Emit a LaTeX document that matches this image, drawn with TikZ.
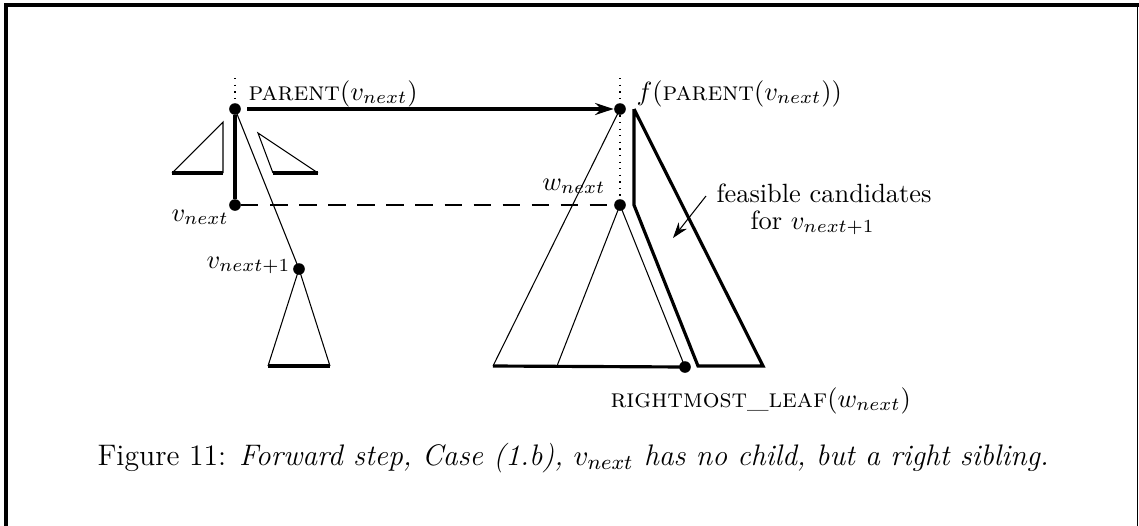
\documentclass[tikz,border=0pt]{standalone}
\usetikzlibrary{arrows.meta}
\begin{document}
\begin{tikzpicture}[x=0.379pt,y=-0.379pt,
  thin line/.style={line width=0.4pt},
  thick line/.style={line width=1.2pt},
  dotline/.style={line width=0.5pt,dotted},
  dashline/.style={line width=1.1pt,dash pattern=on 6.5pt off 4.5pt},
  dot/.style={circle,fill=black,inner sep=0pt,minimum size=4.4pt},
  lbl/.style={inner sep=0pt}]
\useasboundingbox (0,0) rectangle (1139,526);
% frame
\draw[line width=1.2pt] (6,526) -- (6,5) -- (1139,5);
\draw[line width=0.6pt] (1137.5,5) -- (1137.5,526);

% left part
\node[dot] (p) at (235,109) {};
\node[dot] (vn) at (235,205) {};
\node[dot] (vn1) at (299,269) {};
\coordinate (ptop) at (235,78);
\draw[dotline] (ptop) -- (p);
\draw[thick line] (p) -- (vn);
\draw[thin line] (p.center) -- (vn1.center);
\coordinate (t1l) at (268,366);
\coordinate (t1r) at (330,366);
\draw[thin line] (t1l) -- (vn1.center) -- (t1r);
\draw[thick line] (t1l) -- (t1r);
% small left triangle
\coordinate (sa) at (223,122);
\coordinate (sb) at (223,173);
\coordinate (sc) at (172,173);
\draw[thin line] (sb) -- (sa) -- (sc);
\draw[thick line] (sc) -- (sb);
% small right triangle
\coordinate (ra) at (258,133);
\coordinate (rb) at (273,173);
\coordinate (rc) at (318,173);
\draw[thin line] (rb) -- (ra) -- (rc);
\draw[thick line] (rb) -- (rc);

% right part
\node[dot] (fp) at (620,109) {};
\node[dot] (wn) at (620,205) {};
\node[dot] (rl) at (685,367) {};
\coordinate (fptop) at (620,78);
\draw[dotline] (fptop) -- (fp);
\draw[dotline] (fp) -- (wn);
\coordinate (bl) at (493,366);
\coordinate (bm) at (557,366);
\draw[thin line] (fp.center) -- (bl);
\draw[thin line] (wn.center) -- (bm);
\draw[thin line] (wn.center) -- (rl.center);
\draw[thick line] (bl) -- (rl.center);
% feasible region
\coordinate (fa) at (634,109);
\coordinate (fb) at (634,205);
\coordinate (fc) at (698,366);
\coordinate (fd) at (763,366);
\draw[thick line] (fa) -- (fb) -- (fc) -- (fd) -- (fa);

% connectors
\draw[dashline] (vn) -- (wn);
\coordinate (pa) at (247,109);
\draw[thick line,-{Stealth[length=7pt,width=4.5pt]}] (pa) -- (fp.west);
\coordinate (fcs) at (706,196);
\coordinate (fce) at (673,238);
\draw[thin line,-{Stealth[length=6pt,width=4pt]}] (fcs) -- (fce);

% labels
\node[lbl,anchor=base west] (lp) at (248,100) {\textsc{parent}$(v_{next})$};
\node[lbl,anchor=base west] (lfp) at (636,100) {$f($\textsc{parent}$(v_{next}))$};
\node[lbl,anchor=base east] (lwn) at (606,190) {$w_{next}$};
\node[lbl,anchor=base west] (lvn) at (171,221) {$v_{next}$};
\node[lbl,anchor=base east] (lvn1) at (291,268) {$v_{next+1}$};
\node[lbl,anchor=base west] (lfc) at (716,202) {feasible candidates};
\node[lbl,anchor=base west] (lfor) at (750,229) {for $v_{next+1}$};
\node[lbl,anchor=base west] (lrl) at (610,407) {\textsc{rightmost\_leaf}$(w_{next})$};
\node[lbl,anchor=base west,font=\fontsize{11.25}{13.5}\selectfont] (cap) at (97,465) {Figure 11: \textit{Forward step, Case (1.b), $v_{next}$ has no child, but a right sibling.}};
\end{tikzpicture}
\end{document}
